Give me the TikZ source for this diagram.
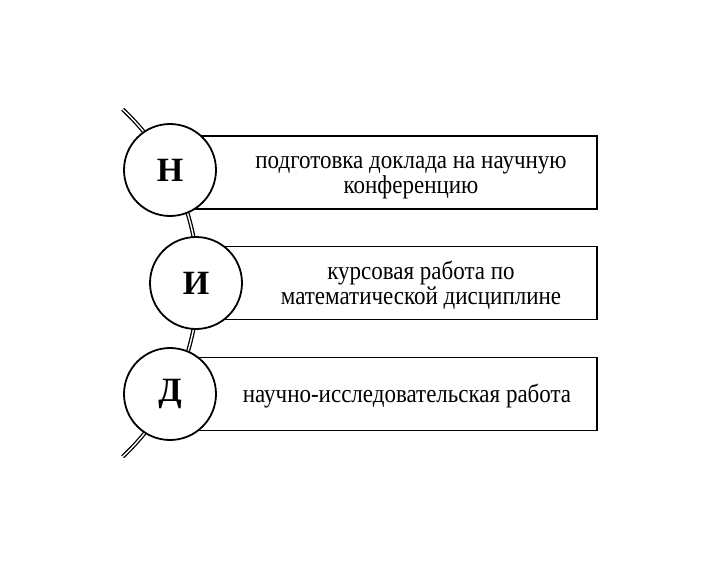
\documentclass[tikz,border=0pt]{standalone}
\usepackage{fontspec}
\setmainfont{Liberation Serif}
\usetikzlibrary{calc}
\newcommand\stretchtxt[1]{\scalebox{1}[1.12]{\begin{tabular}{@{}c@{}}#1\end{tabular}}}
\begin{document}
\begin{tikzpicture}[x=1pt,y=-1pt,
  ring/.style={circle, draw, line width=1.8pt, fill=white, minimum size=92pt, inner sep=0pt, font=\fontsize{34}{34}\selectfont\bfseries},
  box/.style={rectangle, draw, line width=1.8pt, fill=white, minimum height=73pt, anchor=east, inner sep=0pt},
  txt/.style={inner sep=0pt, font=\fontsize{23}{21.5}\selectfont},
  spine/.style={double, line width=1.3pt, double distance=1.4pt}]
\useasboundingbox (0,0) rectangle (715,578);
\coordinate (O) at (-40,283);
\coordinate (s) at ($(O)+(-46.9:238)$);
\draw[spine] (s) arc[start angle=-46.9, end angle=46.9, radius=238];
\node[box, minimum width=428pt] (r1) at (598,172.5) {};
\node[box, minimum width=402pt] (r2) at (598,283) {};
\node[box, minimum width=428pt] (r3) at (598,394) {};
\node[ring] (N) at (170,170) {Н};
\node[ring] (I) at (196,283) {И};
\node[ring] (D) at (170,394) {Д};
\node[txt] (t1) at (411,176) {\stretchtxt{подготовка доклада на научную\\конференцию}};
\node[txt] (t2) at (421,286) {\stretchtxt{курсовая работа по\\математической дисциплине}};
\node[txt] (t3) at (407,397) {\stretchtxt{научно-исследовательская работа}};
\end{tikzpicture}
\end{document}
